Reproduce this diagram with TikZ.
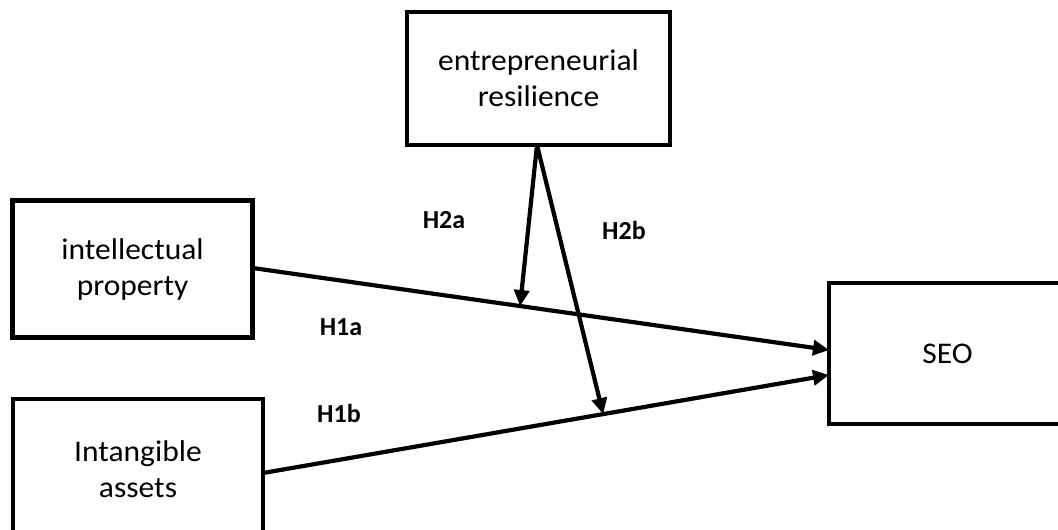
\documentclass[tikz,border=0pt]{standalone}
\usepackage{fontspec}
\setmainfont{Carlito}
\newfontfamily\boxfont{Carlito}[FakeStretch=1.05]
\usetikzlibrary{arrows.meta,calc}
\begin{document}
\begin{tikzpicture}[x=1pt,y=-1pt,
  box/.style={draw=black, line width=4.5pt, fill=white, rectangle, align=center,
    inner sep=0pt, outer sep=0pt, font=\boxfont\fontsize{30}{36}\selectfont},
  link/.style={line width=4.2pt, -{Triangle[length=16pt,width=15pt]}},
  hyp/.style={font=\bfseries\fontsize{26}{30}\selectfont, inner sep=0pt}]
\useasboundingbox (0,0) rectangle (1058,530);
\clip (0,0) rectangle (1058,530);
\node[box, minimum width=263pt, minimum height=133pt] (er) at (538.5,78.5) {entrepreneurial\\resilience};
\node[box, minimum width=240pt, minimum height=137pt] (ip) at (132.6,269) {intellectual\\property};
\node[box, minimum width=250pt, minimum height=140pt] (ia) at (138,469) {Intangible\\assets};
\node[box, minimum width=237pt, minimum height=141pt] (seo) at (947.5,353.5) {SEO};
\coordinate (seoA) at ([yshift=3.5pt]seo.west);
\coordinate (seoB) at ([yshift=-21.5pt]seo.west);
\coordinate (ipS) at ([yshift=1pt]ip.east);
\coordinate (iaS) at ([yshift=-4pt]ia.east);
\coordinate (erS) at ([xshift=-1.5pt]er.south);
\draw[link] (ipS) -- coordinate[pos=0.464] (mA) (seoA);
\draw[link] (iaS) -- coordinate[pos=0.601] (mB) (seoB);
\draw[link] (erS) -- (mA);
\draw[link] (erS) -- (mB);
\node[hyp] (h1a) at (341,327) {H1a};
\node[hyp] (h1b) at (339,413) {H1b};
\node[hyp] (h2a) at (444,220) {H2a};
\node[hyp] (h2b) at (624,230) {H2b};
\end{tikzpicture}
\end{document}
